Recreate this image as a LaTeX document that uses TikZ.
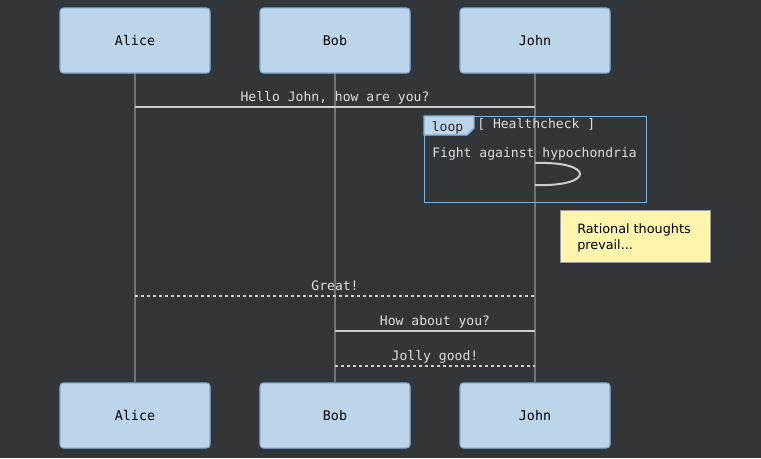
\documentclass[tikz,border=0pt]{standalone}
\usepackage{fontspec}
\setmonofont{DejaVu Sans Mono}
\newfontfamily\notefont{DejaVu Sans}
\definecolor{bg}{HTML}{333639}
\definecolor{actfill}{HTML}{BDD5EA}
\definecolor{actdraw}{HTML}{81B1DB}
\definecolor{lifeline}{HTML}{727578}
\definecolor{msg}{HTML}{CCCCCC}
\definecolor{txt}{HTML}{DDDDDD}
\definecolor{notefill}{HTML}{FFF5AD}
\definecolor{notedraw}{HTML}{9A9A9A}
\begin{document}
\begin{tikzpicture}[x=0.75pt,y=-0.75pt,
  actor/.style={draw=actdraw,fill=actfill,rounded corners=2.5pt,line width=0.8pt,minimum width=112.5pt,minimum height=48.75pt,inner sep=0pt,font=\ttfamily\fontsize{10}{12}\selectfont,text=black},
  life/.style={draw=lifeline,line width=1.1pt},
  msgline/.style={draw=msg,line width=1.5pt},
  msgdash/.style={draw=msg,line width=1.5pt,dash pattern=on 2.25pt off 2.25pt},
  lbl/.style={font=\ttfamily\fontsize{9.8}{12}\selectfont,text=txt,inner sep=0pt,anchor=base},
  notebox/.style={draw=notedraw,fill=notefill,line width=0.75pt,minimum width=112.5pt,minimum height=39pt,inner sep=0pt}
]
\fill[bg] (0,0) rectangle (761,458);
\useasboundingbox (0,0) rectangle (761,458);
% actors
\node[actor] (aT) at (135,40.5) {Alice};
\node[actor] (bT) at (335,40.5) {Bob};
\node[actor] (jT) at (535,40.5) {John};
\node[actor] (aB) at (135,415.5) {Alice};
\node[actor] (bB) at (335,415.5) {Bob};
\node[actor] (jB) at (535,415.5) {John};
% lifelines
\path[life] (aT.south) -- (aB.north);
\path[life] (bT.south) -- (bB.north);
\path[life] (jT.south) -- (jB.north);
% message endpoints
\coordinate (m1a) at (135,107); \coordinate (m1j) at (535,107);
\coordinate (m2a) at (135,296); \coordinate (m2j) at (535,296);
\coordinate (m3b) at (335,331); \coordinate (m3j) at (535,331);
\coordinate (m4b) at (335,366); \coordinate (m4j) at (535,366);
\path[msgline] (m1a) -- (m1j);
\node[lbl] (l1) at (335,101) {Hello John, how are you?};
% loop
\node[draw=actdraw,line width=1.1pt,minimum width=166.5pt,minimum height=64.5pt,inner sep=0pt,anchor=north west] (loopbox) at (424,116) {};
\fill[actfill,draw=actdraw,line width=1.1pt] (424,116) -- (474,116) -- (474,128) -- (467,135) -- (424,135) -- cycle;
\node[font=\ttfamily\fontsize{9.8}{12}\selectfont,text=black!85,inner sep=0pt,anchor=base] (looplbl) at (447.5,131) {loop};
\node[lbl,anchor=base west] (cond) at (477,128) {[ Healthcheck ]};
\node[lbl,anchor=base west] (fight) at (432,157) {Fight against hypochondria};
\coordinate (s1) at (535,163); \coordinate (s2) at (535,185);
\path[draw=msg,line width=1.5pt] (s1) .. controls (595,161) and (595,187) .. (s2);
% note
\node[notebox,anchor=north west] (note) at (560,210) {};
\node[font=\notefont\fontsize{9.6}{12}\selectfont,text=black,align=left,inner sep=0pt,anchor=north west] (notetxt) at (577,224) {Rational thoughts\\prevail...};
% messages
\path[msgdash] (m2a) -- (m2j);
\node[lbl] (l2) at (335,290) {Great!};
\path[msgline] (m3b) -- (m3j);
\node[lbl] (l3) at (435,325) {How about you?};
\path[msgdash] (m4b) -- (m4j);
\node[lbl] (l4) at (435,360) {Jolly good!};
\end{tikzpicture}
\end{document}
